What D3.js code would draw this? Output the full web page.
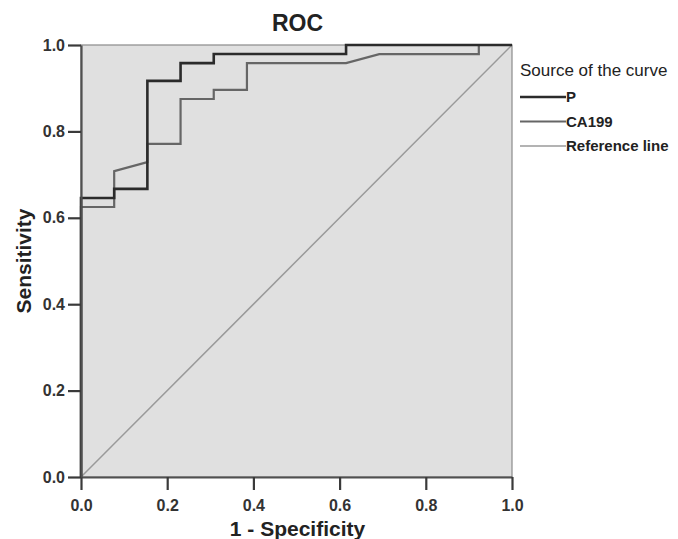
<!DOCTYPE html>
<html>
<head>
<meta charset="utf-8">
<script src="https://cdn.jsdelivr.net/npm/d3@7"></script>
<style>
  body { margin: 0; background: #fff; }
  svg text { font-family: "Liberation Sans", Arial, sans-serif; }
</style>
</head>
<body>
<div class="roc-chart"></div>
<script>
// ROC points, x = 1 - specificity, y = sensitivity
const pFpr  = [0, 0, 0.077, 0.077, 0.154, 0.154, 0.231, 0.231, 0.308, 0.308, 0.615, 0.615, 1];
const pTpr  = [0, 0.646, 0.646, 0.667, 0.667, 0.917, 0.917, 0.958, 0.958, 0.979, 0.979, 1, 1];
const caFpr = [0, 0, 0.077, 0.077, 0.154, 0.154, 0.231, 0.231, 0.308, 0.308, 0.385, 0.385, 0.615, 0.692, 0.923, 0.923, 1];
const caTpr = [0, 0.625, 0.625, 0.708, 0.729, 0.771, 0.771, 0.875, 0.875, 0.896, 0.896, 0.958, 0.958, 0.979, 0.979, 1, 1];
const refLine = [0, 1];
const ticks = [0, 0.2, 0.4, 0.6, 0.8, 1.0];
const legendNames = ["P", "CA199", "Reference line"];

const width = 678, height = 539;
const margin = {top: 45, right: 166, bottom: 62, left: 81};

const svg = d3.select(".roc-chart")
    .append("svg")
    .attr("width", width)
    .attr("height", height)
    .attr("viewBox", [0, 0, width, height]);

const x = d3.scaleLinear().domain([0, 1]).range([margin.left, width - margin.right]);
const y = d3.scaleLinear().domain([0, 1]).range([height - margin.bottom, margin.top]);

// plot background + frame
svg.append("rect")
    .attr("x", x(0)).attr("y", y(1))
    .attr("width", x(1) - x(0)).attr("height", y(0) - y(1))
    .attr("fill", "#e0e0e0")
    .attr("stroke", "#8a8a8a")
    .attr("stroke-width", 1.2);

const line = d3.line().x(d => x(d[0])).y(d => y(d[1]));

// reference diagonal
svg.append("path")
    .datum(refLine.map(v => [v, v]))
    .attr("d", line)
    .attr("fill", "none")
    .attr("stroke", "#9a9a9a")
    .attr("stroke-width", 1.5);

svg.append("path")
    .datum(caFpr.map((v, i) => [v, caTpr[i]]))
    .attr("d", line)
    .attr("fill", "none")
    .attr("stroke", "#666")
    .attr("stroke-width", 2.2);

svg.append("path")
    .datum(pFpr.map((v, i) => [v, pTpr[i]]))
    .attr("d", line)
    .attr("fill", "none")
    .attr("stroke", "#2b2b2b")
    .attr("stroke-width", 2.6);

// axes
const xAxis = svg.append("g")
    .attr("transform", `translate(0,${y(0)})`)
    .call(d3.axisBottom(x).tickValues(ticks).tickFormat(d3.format(".1f")).tickSize(13).tickSizeOuter(0));
const yAxis = svg.append("g")
    .attr("transform", `translate(${x(0)},0)`)
    .call(d3.axisLeft(y).tickValues(ticks).tickFormat(d3.format(".1f")).tickSize(13).tickSizeOuter(0));

[xAxis, yAxis].forEach(g => {
    g.select(".domain").attr("stroke", "#505050").attr("stroke-width", 2.2);
    g.selectAll(".tick line").attr("stroke", "#3a3a3a").attr("stroke-width", 2.2);
    g.selectAll(".tick text")
        .attr("fill", "#333")
        .style("font-family", "'Liberation Sans', Arial, sans-serif")
        .style("font-size", "16px")
        .style("font-weight", "bold");
});
xAxis.selectAll(".tick text").attr("dy", "1.1em");
yAxis.selectAll(".tick text").attr("x", -16);

// titles
svg.append("text")
    .attr("x", (x(0) + x(1)) / 2 + 1).attr("y", 31)
    .attr("text-anchor", "middle")
    .style("font-size", "23px").style("font-weight", "bold")
    .attr("fill", "#222")
    .text("ROC");

svg.append("text")
    .attr("x", (x(0) + x(1)) / 2 + 1).attr("y", 536)
    .attr("text-anchor", "middle")
    .style("font-size", "21px").style("font-weight", "bold")
    .attr("fill", "#222")
    .text("1 - Specificity");

svg.append("text")
    .attr("transform", `translate(31,${(y(0) + y(1)) / 2}) rotate(-90)`)
    .attr("text-anchor", "middle")
    .style("font-size", "21px").style("font-weight", "bold")
    .attr("fill", "#222")
    .text("Sensitivity");

// legend
const legend = svg.append("g").attr("transform", "translate(520,0)");
legend.append("text")
    .attr("x", 0).attr("y", 76)
    .style("font-size", "17px")
    .attr("fill", "#222")
    .text("Source of the curve");

const legendColors = ["#2b2b2b", "#666", "#9a9a9a"];
const legendWidths = [2.6, 2, 1.5];
const legendY = d3.scalePoint().domain(legendNames).range([97, 146]);

const item = legend.selectAll("g.item")
    .data(legendNames)
    .join("g")
    .attr("class", "item")
    .attr("transform", d => `translate(0,${legendY(d)})`);
item.append("line")
    .attr("x1", 0).attr("x2", 46)
    .attr("stroke", (d, i) => legendColors[i])
    .attr("stroke-width", (d, i) => legendWidths[i]);
item.append("text")
    .attr("x", 46).attr("y", 5)
    .style("font-size", "15px")
    .style("font-weight", "bold")
    .attr("fill", "#222")
    .text(d => d);
</script>
</body>
</html>
